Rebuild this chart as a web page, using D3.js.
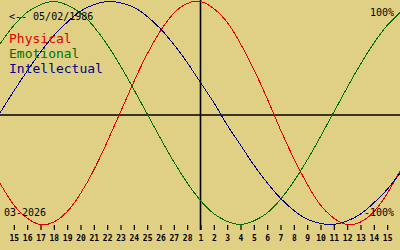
<!DOCTYPE html>
<html>
<head>
<meta charset="utf-8">
<script src="https://cdn.jsdelivr.net/npm/d3@7"></script>
<style>
  body { margin: 0; background: #e0d084; }
  svg { display: block; }
</style>
</head>
<body>
<div id="chart"></div>
<script>
// day labels, Feb 15 .. Mar 15 (index 1..29 on a 0..30 axis)
const dayLabels = ["15","16","17","18","19","20","21","22","23","24","25","26","27","28",
  "1","2","3","4","5","6","7","8","9","10","11","12","13","14","15"]

// values per day, index 0 = Feb 14 .. index 30 = Mar 16
const physical = [-0.63,-0.82,-0.94,-1.00,-0.98,-0.89,-0.73,-0.52,-0.27,0.00,0.27,0.52,0.73,0.89,0.98,1.00,
  0.94,0.82,0.63,0.40,0.14,-0.14,-0.40,-0.63,-0.82,-0.94,-1.00,-0.98,-0.89,-0.73,-0.52]
const emotional = [0.62,0.78,0.90,0.97,1.00,0.97,0.90,0.78,0.62,0.43,0.22,0.00,-0.22,-0.43,-0.62,-0.78,
  -0.90,-0.97,-1.00,-0.97,-0.90,-0.78,-0.62,-0.43,-0.22,0.00,0.22,0.43,0.62,0.78,0.90]
const intellectual = [0.00,0.19,0.37,0.54,0.69,0.81,0.91,0.97,1.00,0.99,0.95,0.87,0.76,0.62,0.46,0.28,
  0.10,-0.10,-0.28,-0.46,-0.62,-0.76,-0.87,-0.95,-0.99,-1.00,-0.97,-0.91,-0.81,-0.69,-0.54]

const birthLabel = "<-- 05/02/1986"
const monthLabel = "03-2026"
const seriesNames = ["Physical", "Emotional", "Intellectual"]
const seriesColors = ["#e00000", "#007000", "#000090"]

const width = 400, height = 250

const svg = d3.select("#chart").append("svg")
    .attr("width", width)
    .attr("height", height)

svg.append("rect").attr("width", width).attr("height", height).attr("fill", "#e0d084")

const x = d3.scaleLinear().domain([0, 30]).range([0, width])
const y = d3.scaleLinear().domain([-1, 1]).range([224.5, 1.5])

// axes lines
svg.append("line")
    .attr("x1", 0).attr("x2", width)
    .attr("y1", 115).attr("y2", 115)
    .attr("stroke", "#000")
    .attr("stroke-width", 1.6)
svg.append("line")
    .attr("x1", x(15) + 0.5).attr("x2", x(15) + 0.5)
    .attr("y1", 0).attr("y2", 230)
    .attr("stroke", "#000")
    .attr("stroke-width", 1.6)

// day ticks
const tickIdx = d3.range(1, 30)
const xAxis = d3.axisBottom(x)
    .tickValues(tickIdx)
    .tickFormat(d => dayLabels[d - 1])
    .tickSize(5)

const ax = svg.append("g")
    .attr("transform", "translate(0.5,225)")
    .call(xAxis)
ax.select(".domain").remove()
ax.selectAll("line").attr("stroke", "#000").attr("stroke-width", 1.2)
ax.selectAll("text")
    .attr("y", 16).attr("dy", 0)
    .attr("fill", "#000")
    .style("font-family", "DejaVu Sans Mono")
    .style("font-weight", "bold")
    .style("font-size", "8px")

// curves
const line = d3.line()
    .x((d, i) => x(i))
    .y(d => y(d))
    .curve(d3.curveNatural)

const allSeries = [physical, emotional, intellectual]
svg.selectAll(".bio")
    .data(allSeries)
    .enter()
    .append("path")
    .attr("class", "bio")
    .attr("d", d => line(d))
    .attr("fill", "none")
    .attr("stroke", (d, i) => seriesColors[i])
    .attr("stroke-width", 1)
    .style("shape-rendering", "crispEdges")

// texts
const mono = "DejaVu Sans Mono"
svg.append("text")
    .attr("x", 9).attr("y", 20)
    .style("font-family", mono).style("font-size", "10px")
    .text(birthLabel)

svg.selectAll(".name")
    .data(seriesNames)
    .enter()
    .append("text")
    .attr("class", "name")
    .attr("x", 9)
    .attr("y", (d, i) => 43 + i * 15)
    .attr("fill", (d, i) => seriesColors[i])
    .style("font-family", mono).style("font-size", "13px")
    .text(d => d)

svg.append("text")
    .attr("x", 394).attr("y", 16)
    .attr("text-anchor", "end")
    .style("font-family", mono).style("font-size", "10px")
    .text("100%")

svg.append("text")
    .attr("x", 394).attr("y", 216)
    .attr("text-anchor", "end")
    .style("font-family", mono).style("font-size", "10px")
    .text("-100%")

svg.append("text")
    .attr("x", 4).attr("y", 216)
    .style("font-family", mono).style("font-size", "10px")
    .text(monthLabel)
</script>
</body>
</html>
